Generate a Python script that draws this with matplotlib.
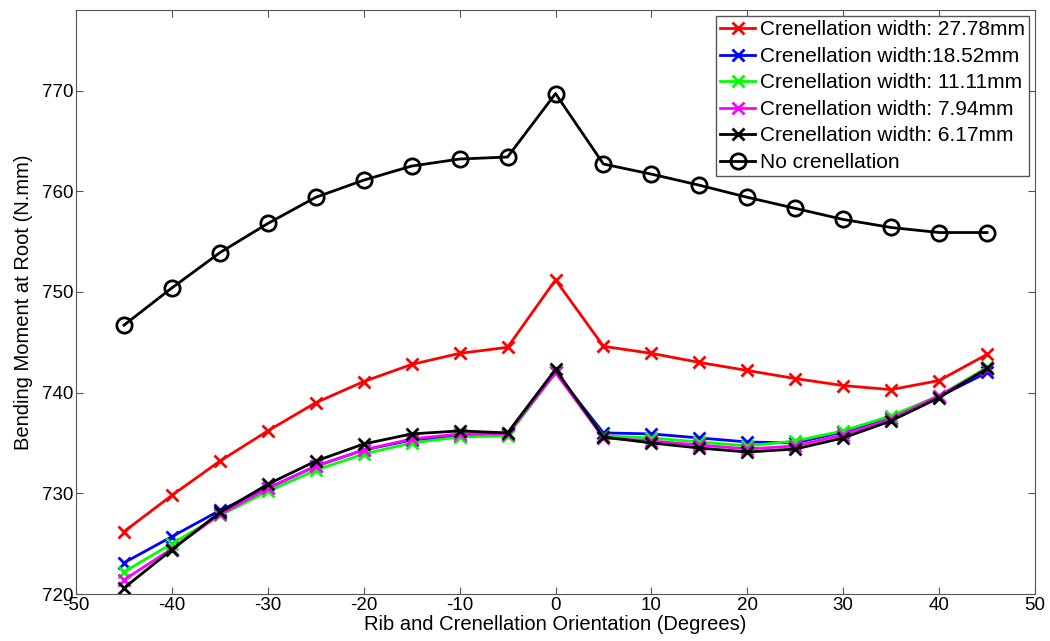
import matplotlib.pyplot as plt

plt.rcParams['font.family'] = ['Liberation Sans', 'DejaVu Sans']
plt.rcParams['axes.unicode_minus'] = False

# orientation angles (degrees)
angles = [-45, -40, -35, -30, -25, -20, -15, -10, -5, 0, 5, 10, 15, 20, 25, 30, 35, 40, 45]

# bending moment at root (N.mm)
w_27_78 = [726.2, 729.8, 733.2, 736.2, 739.0, 741.1, 742.8, 743.9, 744.5, 751.2,
           744.6, 743.9, 743.0, 742.2, 741.4, 740.7, 740.3, 741.2, 743.8]
w_18_52 = [723.1, 725.7, 728.3, 730.5, 732.7, 734.3, 735.3, 735.7, 735.8, 742.0,
           736.0, 735.9, 735.5, 735.1, 735.0, 736.1, 737.5, 739.6, 742.0]
w_11_11 = [722.2, 725.0, 727.8, 730.2, 732.3, 733.9, 735.0, 735.6, 735.7, 742.0,
           735.7, 735.5, 735.1, 734.7, 735.2, 736.2, 737.7, 739.7, 742.5]
w_7_94 = [721.4, 724.5, 727.9, 730.5, 732.7, 734.3, 735.4, 735.9, 735.9, 742.0,
          735.5, 735.2, 734.8, 734.4, 734.7, 735.8, 737.4, 739.7, 742.3]
w_6_17 = [720.6, 724.4, 728.1, 730.9, 733.2, 734.9, 735.9, 736.2, 736.0, 742.3,
          735.6, 735.0, 734.5, 734.1, 734.4, 735.5, 737.2, 739.5, 742.4]
no_cren = [746.7, 750.4, 753.9, 756.8, 759.4, 761.1, 762.5, 763.2, 763.4, 769.7,
           762.7, 761.7, 760.6, 759.4, 758.3, 757.2, 756.4, 755.9, 755.9]

series = [
    (w_27_78, "#ff0000", "x", "Crenellation width: 27.78mm"),
    (w_18_52, "#0000ff", "x", "Crenellation width:18.52mm"),
    (w_11_11, "#00ff00", "x", "Crenellation width: 11.11mm"),
    (w_7_94, "#ff00ff", "x", "Crenellation width: 7.94mm"),
    (w_6_17, "#000000", "x", "Crenellation width: 6.17mm"),
    (no_cren, "#000000", "o", "No crenellation"),
]

fig = plt.figure(figsize=(10.5, 6.41), dpi=100)
ax = fig.add_axes([0.0724, 0.0733, 0.9133, 0.9111])

for vals, color, mk, label in series:
    if mk == "o":
        ax.plot(angles, vals, color=color, marker="o", markersize=11,
                markerfacecolor="none", markeredgewidth=2, linewidth=2, label=label)
    else:
        ax.plot(angles, vals, color=color, marker="x", markersize=9,
                markeredgewidth=2, linewidth=2, label=label)

ax.set_xlim(-50, 50)
ax.set_ylim(720, 778)
ax.set_xticks(range(-50, 51, 10))
ax.set_yticks(range(720, 771, 10))
ax.tick_params(direction="in", top=True, right=True, labelsize=13.5, length=5,
               color="#555555", pad=2)
for s in ax.spines.values():
    s.set_color("#555555")

ax.set_xlabel("Rib and Crenellation Orientation (Degrees)", fontsize=14.5, labelpad=1)
ax.set_ylabel("Bending Moment at Root (N.mm)", fontsize=14.5, labelpad=6)

leg = ax.legend(loc="upper right", fontsize=15, handlelength=1.7, handletextpad=0.2,
                labelspacing=0.36, borderpad=0.2, borderaxespad=0.3,
                fancybox=False, framealpha=1)
leg.get_frame().set_edgecolor("#555555")
leg.get_frame().set_linewidth(1)

fig.savefig("out.png", dpi=100)
